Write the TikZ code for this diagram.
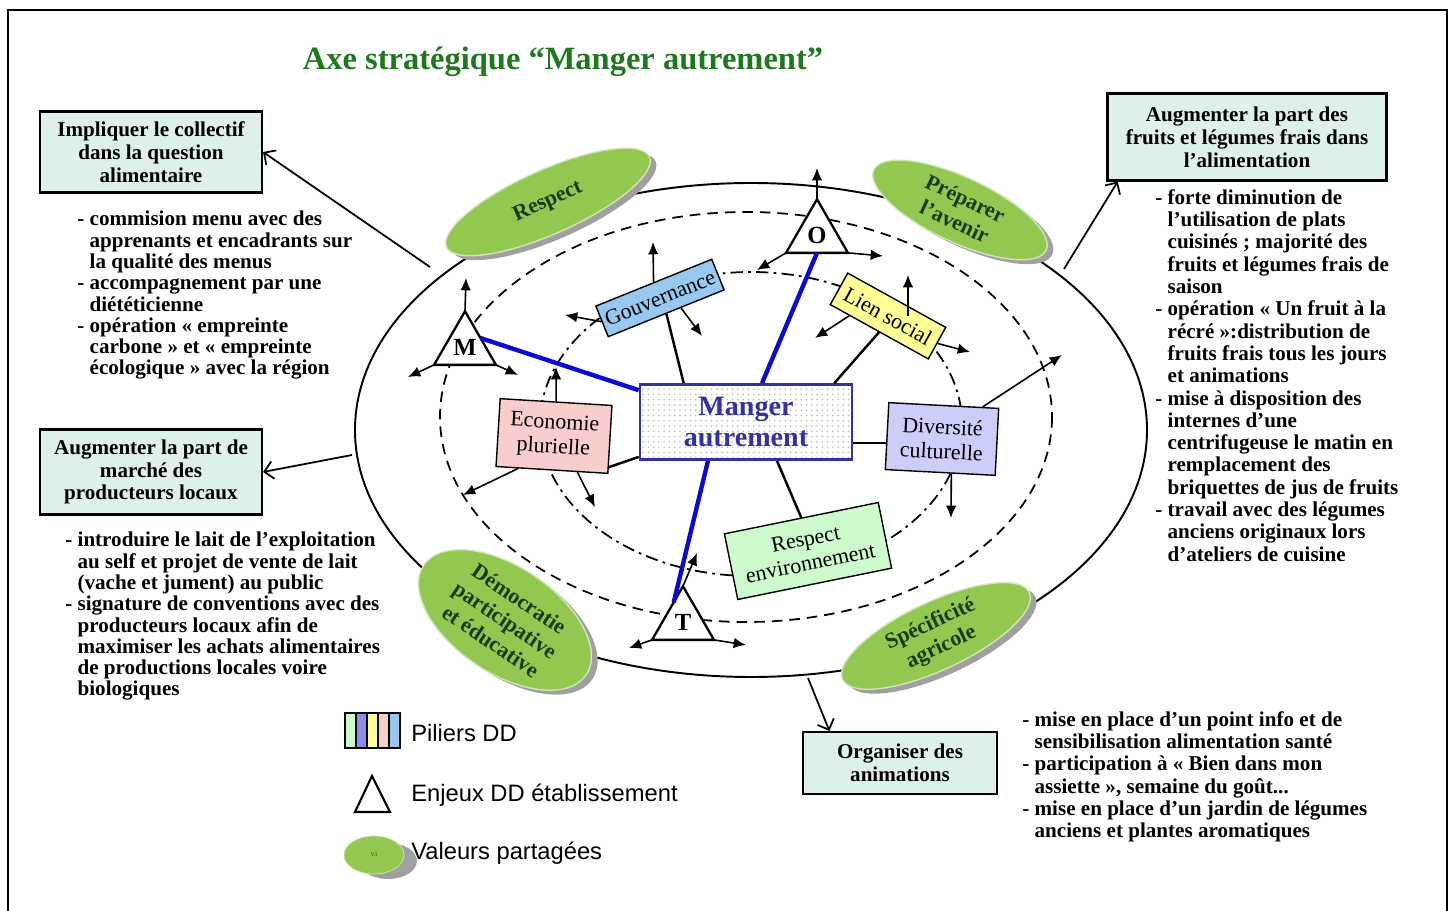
\documentclass[tikz,border=0pt]{standalone}
\usepackage{fontspec}
\setmainfont{Liberation Serif}
\setsansfont{Liberation Sans}
\usetikzlibrary{arrows.meta,shapes.geometric,shadows,patterns,calc}

\definecolor{fondBoite}{RGB}{222,240,234}
\definecolor{vert}{RGB}{146,200,80}
\definecolor{vertClair}{RGB}{205,230,180}
\definecolor{vertFonce}{RGB}{25,60,25}
\definecolor{vertTitre}{RGB}{30,120,30}
\definecolor{ombre}{RGB}{160,160,160}
\definecolor{bleuFonce}{RGB}{51,51,160}
\definecolor{traitBleu}{RGB}{10,10,210}
\definecolor{fondGouv}{RGB}{150,200,240}
\definecolor{fondLien}{RGB}{255,255,150}
\definecolor{fondEco}{RGB}{250,205,205}
\definecolor{fondDiv}{RGB}{205,205,250}
\definecolor{fondEnv}{RGB}{205,250,205}
\definecolor{legViolet}{RGB}{140,140,235}

\newcommand{\ret}{\hphantom{- }}

\begin{document}
\begin{tikzpicture}[x=0.02cm, y=-0.02cm,
    boite/.style={draw, line width=1.2pt, fill=fondBoite, align=center,
        font=\bfseries\fontsize{12}{13}\selectfont, inner sep=2pt},
    puce/.style={anchor=north west, align=left, inner sep=0pt},
    valeur/.style={ellipse, fill=vert, draw=vertClair, line width=0.8pt,
        inner sep=0pt, align=center, text=vertFonce,
        font=\bfseries\fontsize{12.5}{14.5}\selectfont,
        drop shadow={shadow xshift=3.5pt, shadow yshift=-2.5pt, fill=ombre, opacity=1}},
    pilier/.style={draw, line width=0.8pt, align=center, inner sep=2pt,
        font=\fontsize{12.5}{14}\selectfont},
    centre/.style={draw=bleuFonce, line width=1.5pt, preaction={fill=white},
        pattern=dots, pattern color=gray!55, text=bleuFonce, align=center,
        font=\bfseries\fontsize{16}{18}\selectfont,
        minimum width=4.24cm, minimum height=1.5cm},
    enjeu/.style={regular polygon, regular polygon sides=3, draw, line width=1.3pt,
        fill=white, minimum size=1.43cm, inner sep=0pt, outer sep=0pt,
        font=\bfseries\fontsize{14}{14}\selectfont},
    attache/.style={line width=1.4pt},
    axe/.style={line width=2.5pt, draw=traitBleu},
    fleche/.style={-{Latex[length=7pt,width=6pt]}, line width=0.9pt},
    renvoi/.style={-{Straight Barb[length=5pt,width=10pt]}, line width=1pt},
    legende/.style={anchor=west, inner sep=0pt, font=\sffamily\fontsize{13.5}{15}\selectfont}
]

\useasboundingbox (0,0) rectangle (1455,911);

% Frame
\draw[line width=1.6pt] (8,911) -- (8,10) -- (1447,10) -- (1447,911);

% Title
\node[text=vertTitre, font=\bfseries\fontsize{18.5}{20}\selectfont] (titre) at (563,62)
    {Axe stratégique “Manger autrement”};

% Rings
\draw[line width=1.1pt] (751,430) ellipse [x radius=396, y radius=247];
\draw[line width=1pt, dash pattern=on 6pt off 4pt] (746,417) ellipse [x radius=306, y radius=205];
\draw[line width=1pt, dash pattern=on 7pt off 3pt on 1.5pt off 3pt] (751,424) ellipse [x radius=211, y radius=152];

% Shared values
\node[valeur, rotate=24, minimum width=4.44cm, minimum height=1.28cm] (respect) at (548,202) {Respect};
\node[valeur, rotate=-25, minimum width=3.8cm, minimum height=1.3cm] (avenir) at (960,210) {Préparer\\l'avenir};
\node[valeur, rotate=-34, minimum width=3.92cm, minimum height=2.12cm] (democratie) at (505,620)
    {Démocratie\\participative\\et éducative};
\node[valeur, rotate=25, minimum width=4.12cm, minimum height=1.36cm] (agricole) at (936,636) {Spécificité\\agricole};

% Centre and pillars
\node[centre] (manger) at (746,422) {Manger\\autrement};
\node[pilier, fill=fondGouv, rotate=22, minimum width=2.5cm, minimum height=0.66cm] (gouv) at (660,298) {Gouvernance};
\node[pilier, fill=fondLien, rotate=-29, minimum width=2.24cm, minimum height=0.72cm] (social) at (888,316) {Lien social};
\node[pilier, fill=fondEco, rotate=-3.5, minimum width=2.24cm, minimum height=1.36cm] (eco) at (554,436) {Economie\\plurielle};
\node[pilier, fill=fondDiv, rotate=-3, minimum width=2.2cm, minimum height=1.34cm] (div) at (942,439) {Diversité\\culturelle};
\node[pilier, fill=fondEnv, rotate=11.5, minimum width=3.14cm, minimum height=1.34cm] (env) at (808,551) {Respect\\environnement};

% Links centre - pillars
\draw[attache] ($(manger.north west)+(45,0)$) -- (gouv.south);
\draw[attache] ($(manger.north east)+(-19,0)$) -- (social.south);
\draw[attache] ($(manger.west)!0.9!(manger.south west)$) -- ($(eco.south east)!0.2!(eco.east)$);
\coordinate (divin) at ($(div.west)!0.2!(div.south west)$);
\draw[attache] (divin) -- (divin -| manger.east);
\draw[attache] ($(manger.south)+(31,0)$) -- (env.north);

% Stakes
\node[enjeu] (M) at (465,347) {M};
\node[enjeu] (O) at (817,235) {O};
\node[enjeu] (T) at (683,622) {T};

\draw[axe] (M.side 3) -- ($(manger.north west)+(0,7)$);
\draw[axe] (O.side 2) -- ($(manger.north)+(16,0)$);
\draw[axe] ($(manger.south)+(-38,0)$) -- ($(T.corner 1)!0.3!(T.corner 2)$);

% Arrow ends
\coordinate (M-haut) at (466,278);
\coordinate (M-gauche) at (408,377);
\coordinate (M-droite) at (518,375);
\coordinate (O-haut) at (817,168);
\coordinate (O-gauche) at (757,270);
\coordinate (O-droite) at (883,256);
\coordinate (T-haut) at (697,553);
\coordinate (T-gauche) at (629,648);
\coordinate (T-droite) at (746,645);

\foreach \n in {M,O,T}
{
    \draw[fleche] (\n.corner 1) -- (\n-haut);
    \draw[fleche] (\n.corner 2) -- (\n-gauche);
    \draw[fleche] (\n.corner 3) -- (\n-droite);
}

\coordinate (g-haut) at (653,242);
\coordinate (g-gauche) at (565,315);
\coordinate (g-droite) at (702,336);
\coordinate (s-haut) at (908,275);
\coordinate (s-gauche) at (815,338);
\coordinate (s-droite) at (970,352);
\coordinate (e-haut) at (556,367);
\coordinate (e-gauche) at (463,495);
\coordinate (e-bas) at (595,507);
\coordinate (d-haut) at (1062,355);
\coordinate (d-bas) at (951,518);

\draw[fleche] (gouv.north) -- (g-haut);
\draw[fleche] (gouv.west) -- (g-gauche);
\draw[fleche] ($(gouv.south)!0.25!(gouv.south east)$) -- (g-droite);
\draw[fleche] ($(social.center)+(20,0)$) -- (s-haut);
\draw[fleche] ($(social.south west)!0.4!(social.south)$) -- (s-gauche);
\draw[fleche] (social.east) -- (s-droite);
\draw[fleche] (eco.north) -- (e-haut);
\draw[fleche] ($(eco.south west)!0.4!(eco.south)$) -- (e-gauche);
\draw[fleche] ($(eco.south)!0.45!(eco.south east)$) -- (e-bas);
\draw[fleche] ($(div.north)!0.7!(div.north east)$) -- (d-haut);
\draw[fleche] ($(div.south)!0.2!(div.south east)$) -- (d-bas);

% Objectives
\node[boite, minimum width=4.44cm, minimum height=1.62cm] (impl) at (151,152)
    {Impliquer le collectif\\dans la question\\alimentaire};
\node[boite, minimum width=4.44cm, minimum height=1.7cm] (marche) at (151,472)
    {Augmenter la part de\\marché des\\producteurs locaux};
\node[boite, minimum width=5.58cm, minimum height=1.74cm] (fruits) at (1247,137)
    {Augmenter la part des\\fruits et légumes frais dans\\l'alimentation};
\node[boite, minimum width=3.88cm, minimum height=1.24cm] (anim) at (900,763)
    {Organiser des\\animations};

\coordinate (r-impl) at (430,267);
\coordinate (r-marche) at (352,455);
\coordinate (r-fruits) at (1064,269);
\coordinate (r-anim) at (808,678);
\draw[renvoi] (r-impl) -- (impl.east);
\draw[renvoi] (r-marche) -- (marche.east);
\draw[renvoi] (r-fruits) -- ($(fruits.south west)!0.04!(fruits.south east)$);
\draw[renvoi] (r-anim) -- ($(anim.north west)!0.14!(anim.north east)$);

% Actions
\node[puce, font=\bfseries\fontsize{12}{12.1}\selectfont] (txt-impl) at (77,211)
    {- commision menu avec des\\
     \ret apprenants et encadrants sur\\
     \ret la qualité des menus\\
     - accompagnement par une\\
     \ret diététicienne\\
     - opération « empreinte\\
     \ret carbone » et « empreinte\\
     \ret écologique » avec la région};
\node[puce, font=\bfseries\fontsize{12}{12.1}\selectfont] (txt-marche) at (65,532)
    {- introduire le lait de l'exploitation\\
     \ret au self et projet de vente de lait\\
     \ret (vache et jument) au public\\
     - signature de conventions avec des\\
     \ret producteurs locaux afin de\\
     \ret maximiser les achats alimentaires\\
     \ret de productions locales voire\\
     \ret biologiques};
\node[puce, font=\bfseries\fontsize{12}{12.7}\selectfont] (txt-fruits) at (1155,189)
    {- forte diminution de\\
     \ret l'utilisation de plats\\
     \ret cuisinés ; majorité des\\
     \ret fruits et légumes frais de\\
     \ret saison\\
     - opération « Un fruit à la\\
     \ret récré »:distribution de\\
     \ret fruits frais tous les jours\\
     \ret et animations\\
     - mise à disposition des\\
     \ret internes d'une\\
     \ret centrifugeuse le matin en\\
     \ret remplacement des\\
     \ret briquettes de jus de fruits\\
     - travail avec des légumes\\
     \ret anciens originaux lors\\
     \ret d'ateliers de cuisine};
\node[puce, font=\bfseries\fontsize{12}{12.7}\selectfont] (txt-anim) at (1022,711)
    {- mise en place d'un point info et de\\
     \ret sensibilisation alimentation santé\\
     - participation à « Bien dans mon\\
     \ret assiette », semaine du goût...\\
     - mise en place d'un jardin de légumes\\
     \ret anciens et plantes aromatiques};

% Legend
\foreach \c [count=\i from 0] in {fondEnv,legViolet,fondLien,fondEco,fondGouv}
{
    \draw[line width=1pt, fill=\c] (345+11*\i,713) rectangle ++(11,35);
}
\node[legende] (leg-piliers) at (411,733) {Piliers DD};
\draw[line width=1.2pt] (355,812) -- (390,812) -- (372,776) -- cycle;
\node[legende] (leg-enjeux) at (411,795) {Enjeux DD établissement};
\fill[ombre] (388,861) ellipse [x radius=29, y radius=18];
\draw[fill=vert, draw=vertClair] (374,855) ellipse [x radius=30, y radius=19];
\node[text=vertFonce, font=\fontsize{3}{3}\selectfont] (leg-v3) at (374,855) {V3};
\node[legende] (leg-valeurs) at (411,853) {Valeurs partagées};

\end{tikzpicture}
\end{document}
